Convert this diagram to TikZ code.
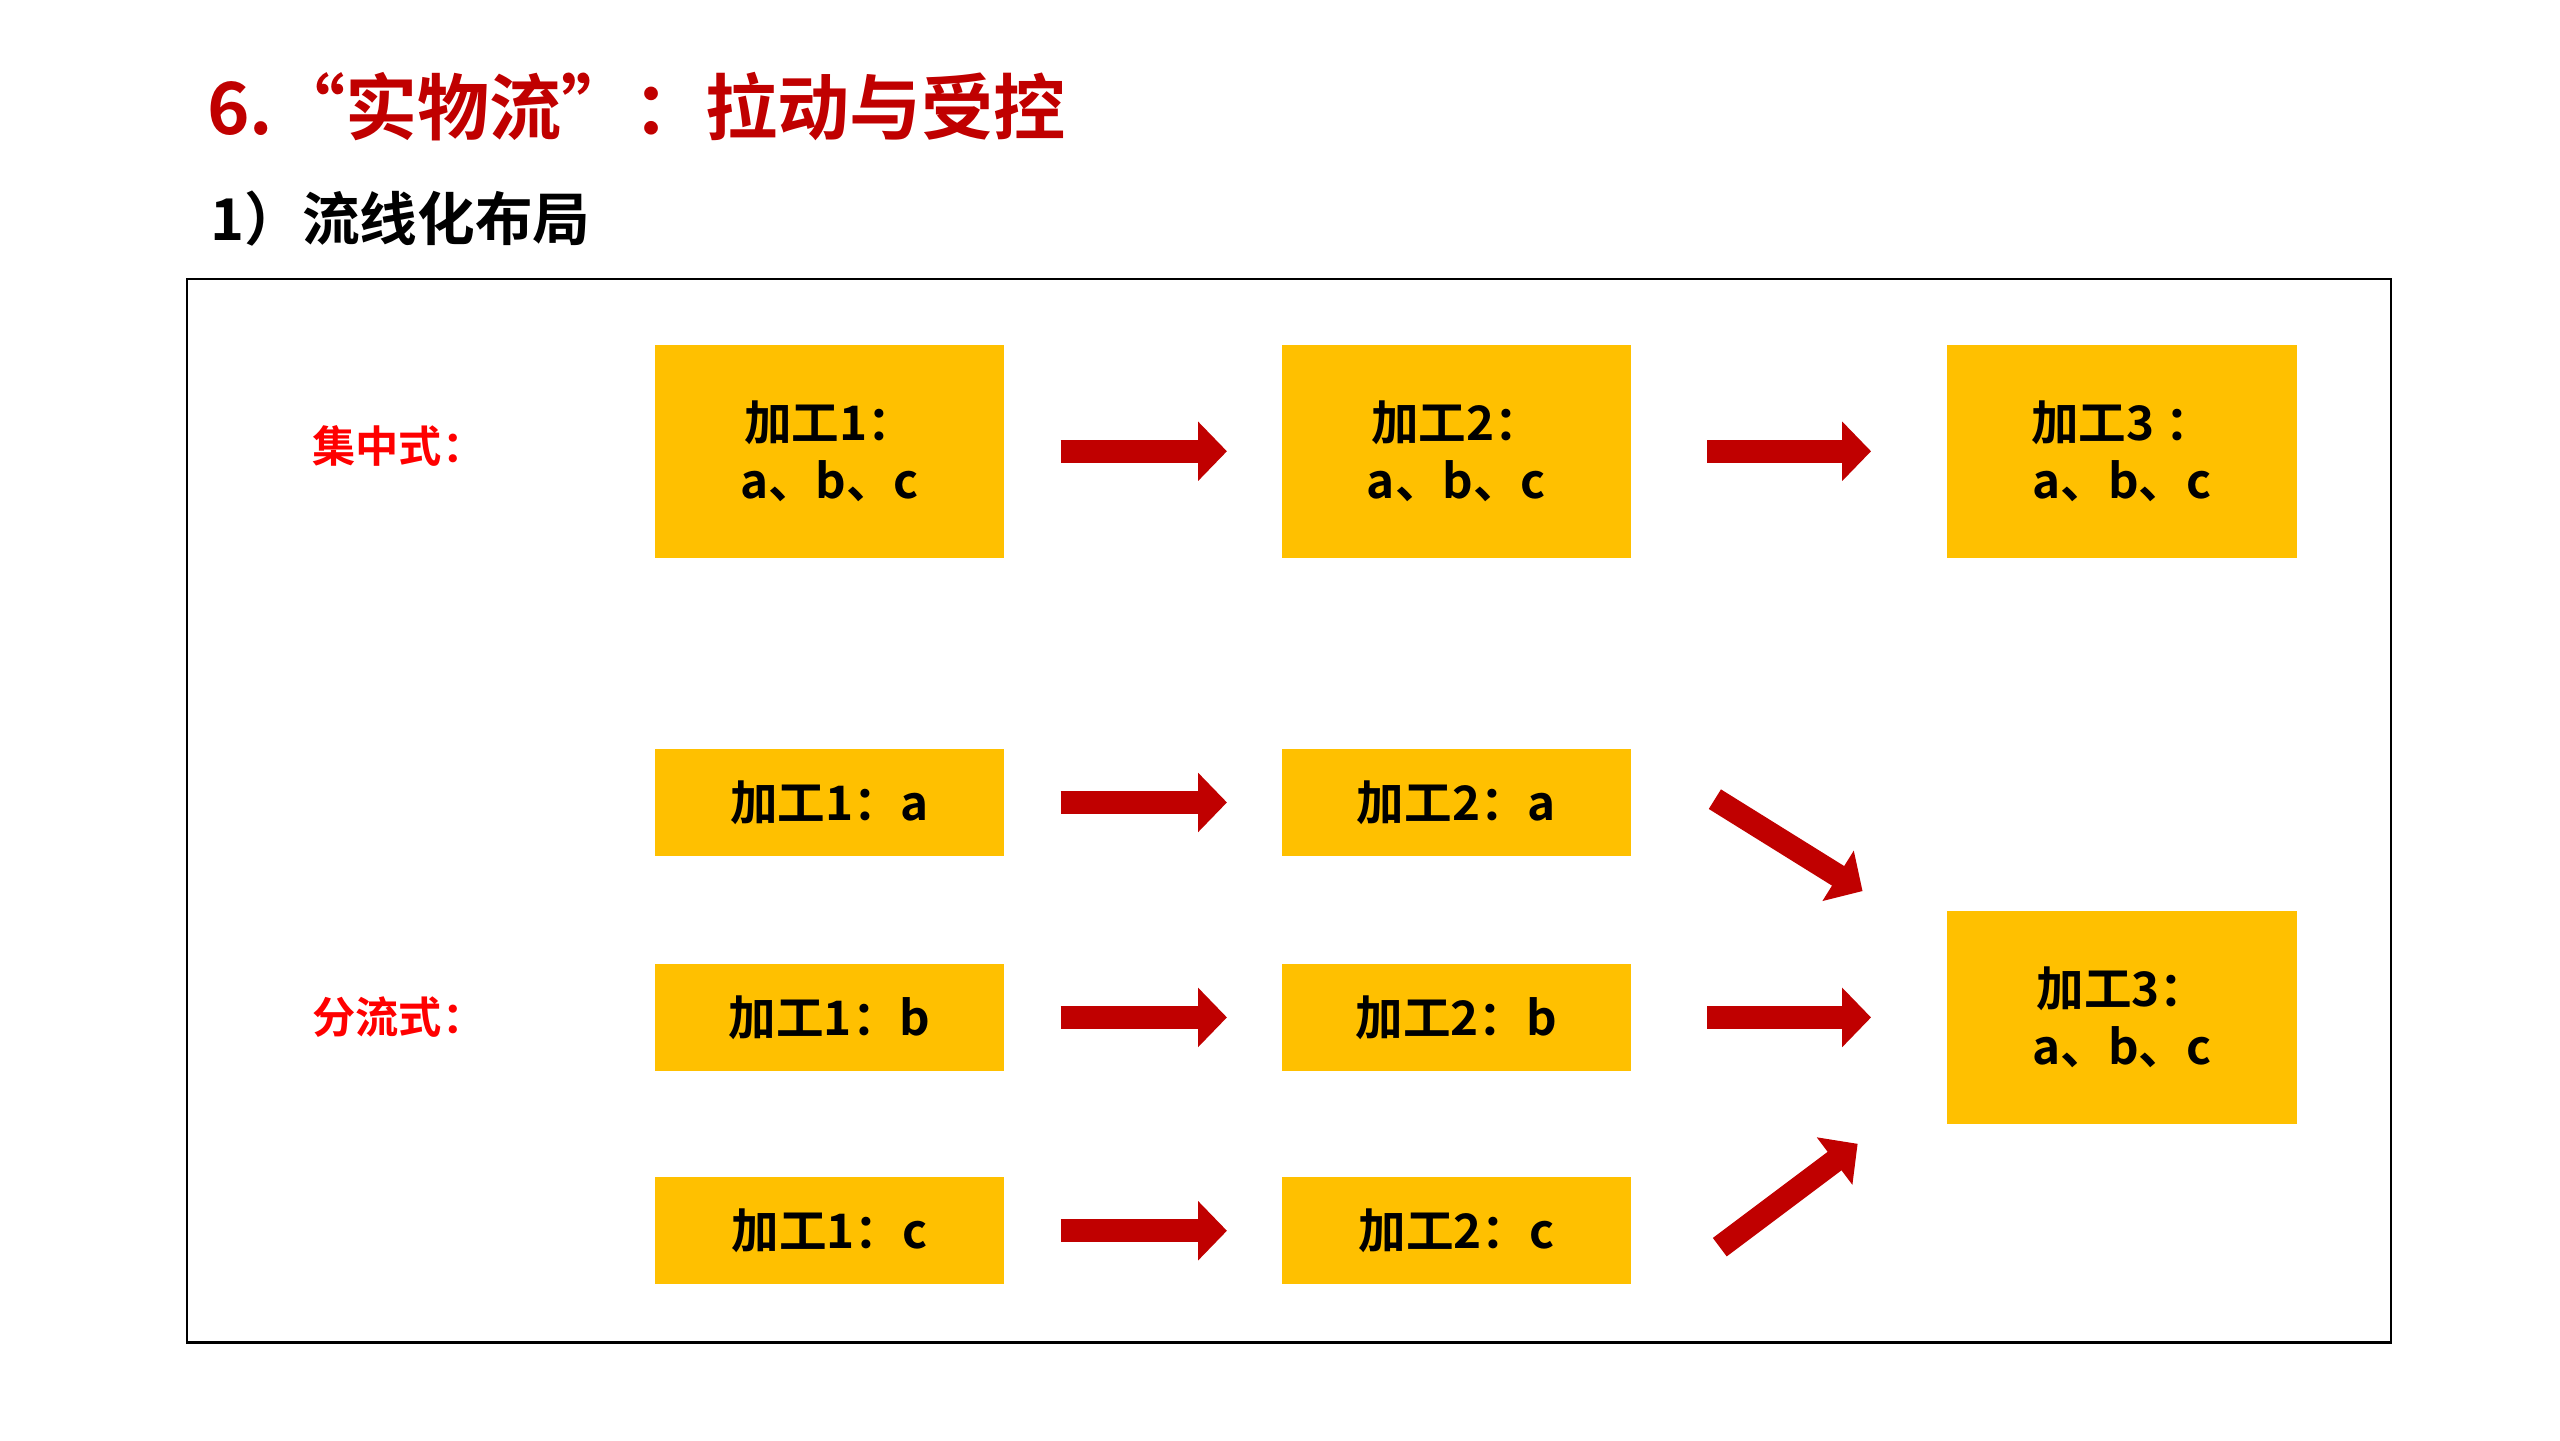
\documentclass[tikz,border=0pt]{standalone}
\usepackage{fontspec}
\setmainfont{Noto Sans CJK SC}[BoldFont={Noto Sans CJK SC Bold}]
\usetikzlibrary{arrows.meta}
\definecolor{titlered}{RGB}{192,0,0}
\definecolor{boxyellow}{RGB}{255,192,0}
\definecolor{arrowred}{RGB}{192,0,0}
\begin{document}
\begin{tikzpicture}[
    x=0.02cm, y=-0.02cm,
    box/.style={fill=boxyellow, minimum width=4.26cm, font=\fontsize{16.5}{20}\selectfont\bfseries, align=center, inner sep=0pt},
    bigbox/.style={box, minimum height=2.6cm},
    smallbox/.style={box, minimum height=1.3cm},
    tag/.style={text=red, font=\fontsize{15}{18}\selectfont\bfseries},
    bigarrow/.style={draw=arrowred, line width=8pt, -{Triangle[width=20pt, length=10pt]}}
]
\useasboundingbox (0,0) rectangle (1560,878);

% titles
\node[anchor=west, text=titlered, font=\fontsize{25}{29}\selectfont\bfseries] (title) at (120,65) {6.“实物流”：拉动与受控};
\node[anchor=west, font=\fontsize{20}{24}\selectfont\bfseries] (subtitle) at (122,133) {1）流线化布局};

% frame
\draw[line width=0.8pt] (114,170) rectangle (1457,818);

% centralised layout
\node[tag] (lab1) at (243,272) {集中式：};
\node[bigbox] (c1) at (505.5,275) {加工1：\\a、b、c};
\node[bigbox] (c2) at (887.5,275) {加工2：\\a、b、c};
\node[bigbox] (c3) at (1293,275) {加工3 ：\\a、b、c};
\draw[bigarrow] ([xshift=0.68cm]c1.east) -- ([xshift=-0.66cm]c2.west);
\draw[bigarrow] ([xshift=0.92cm]c2.east) -- ([xshift=-0.92cm]c3.west);

% split layout
\node[tag] (lab2) at (243,620) {分流式：};
\foreach \k/\y in {a/489, b/620, c/750} {
  \node[smallbox] (s1\k) at (505.5,\y) {加工1：\k};
  \node[smallbox] (s2\k) at (887.5,\y) {加工2：\k};
  \draw[bigarrow] ([xshift=0.68cm]s1\k.east) -- ([xshift=-0.66cm]s2\k.west);
}
\node[bigbox] (s3) at (1293,620) {加工3：\\a、b、c};
\coordinate (ina) at (1135,543);
\coordinate (inc) at (1132,697);
\draw[bigarrow] (1045,487) -- (ina);
\draw[bigarrow] ([xshift=0.92cm]s2b.east) -- ([xshift=-0.92cm]s3.west);
\draw[bigarrow] (1048,760) -- (inc);
\end{tikzpicture}
\end{document}
